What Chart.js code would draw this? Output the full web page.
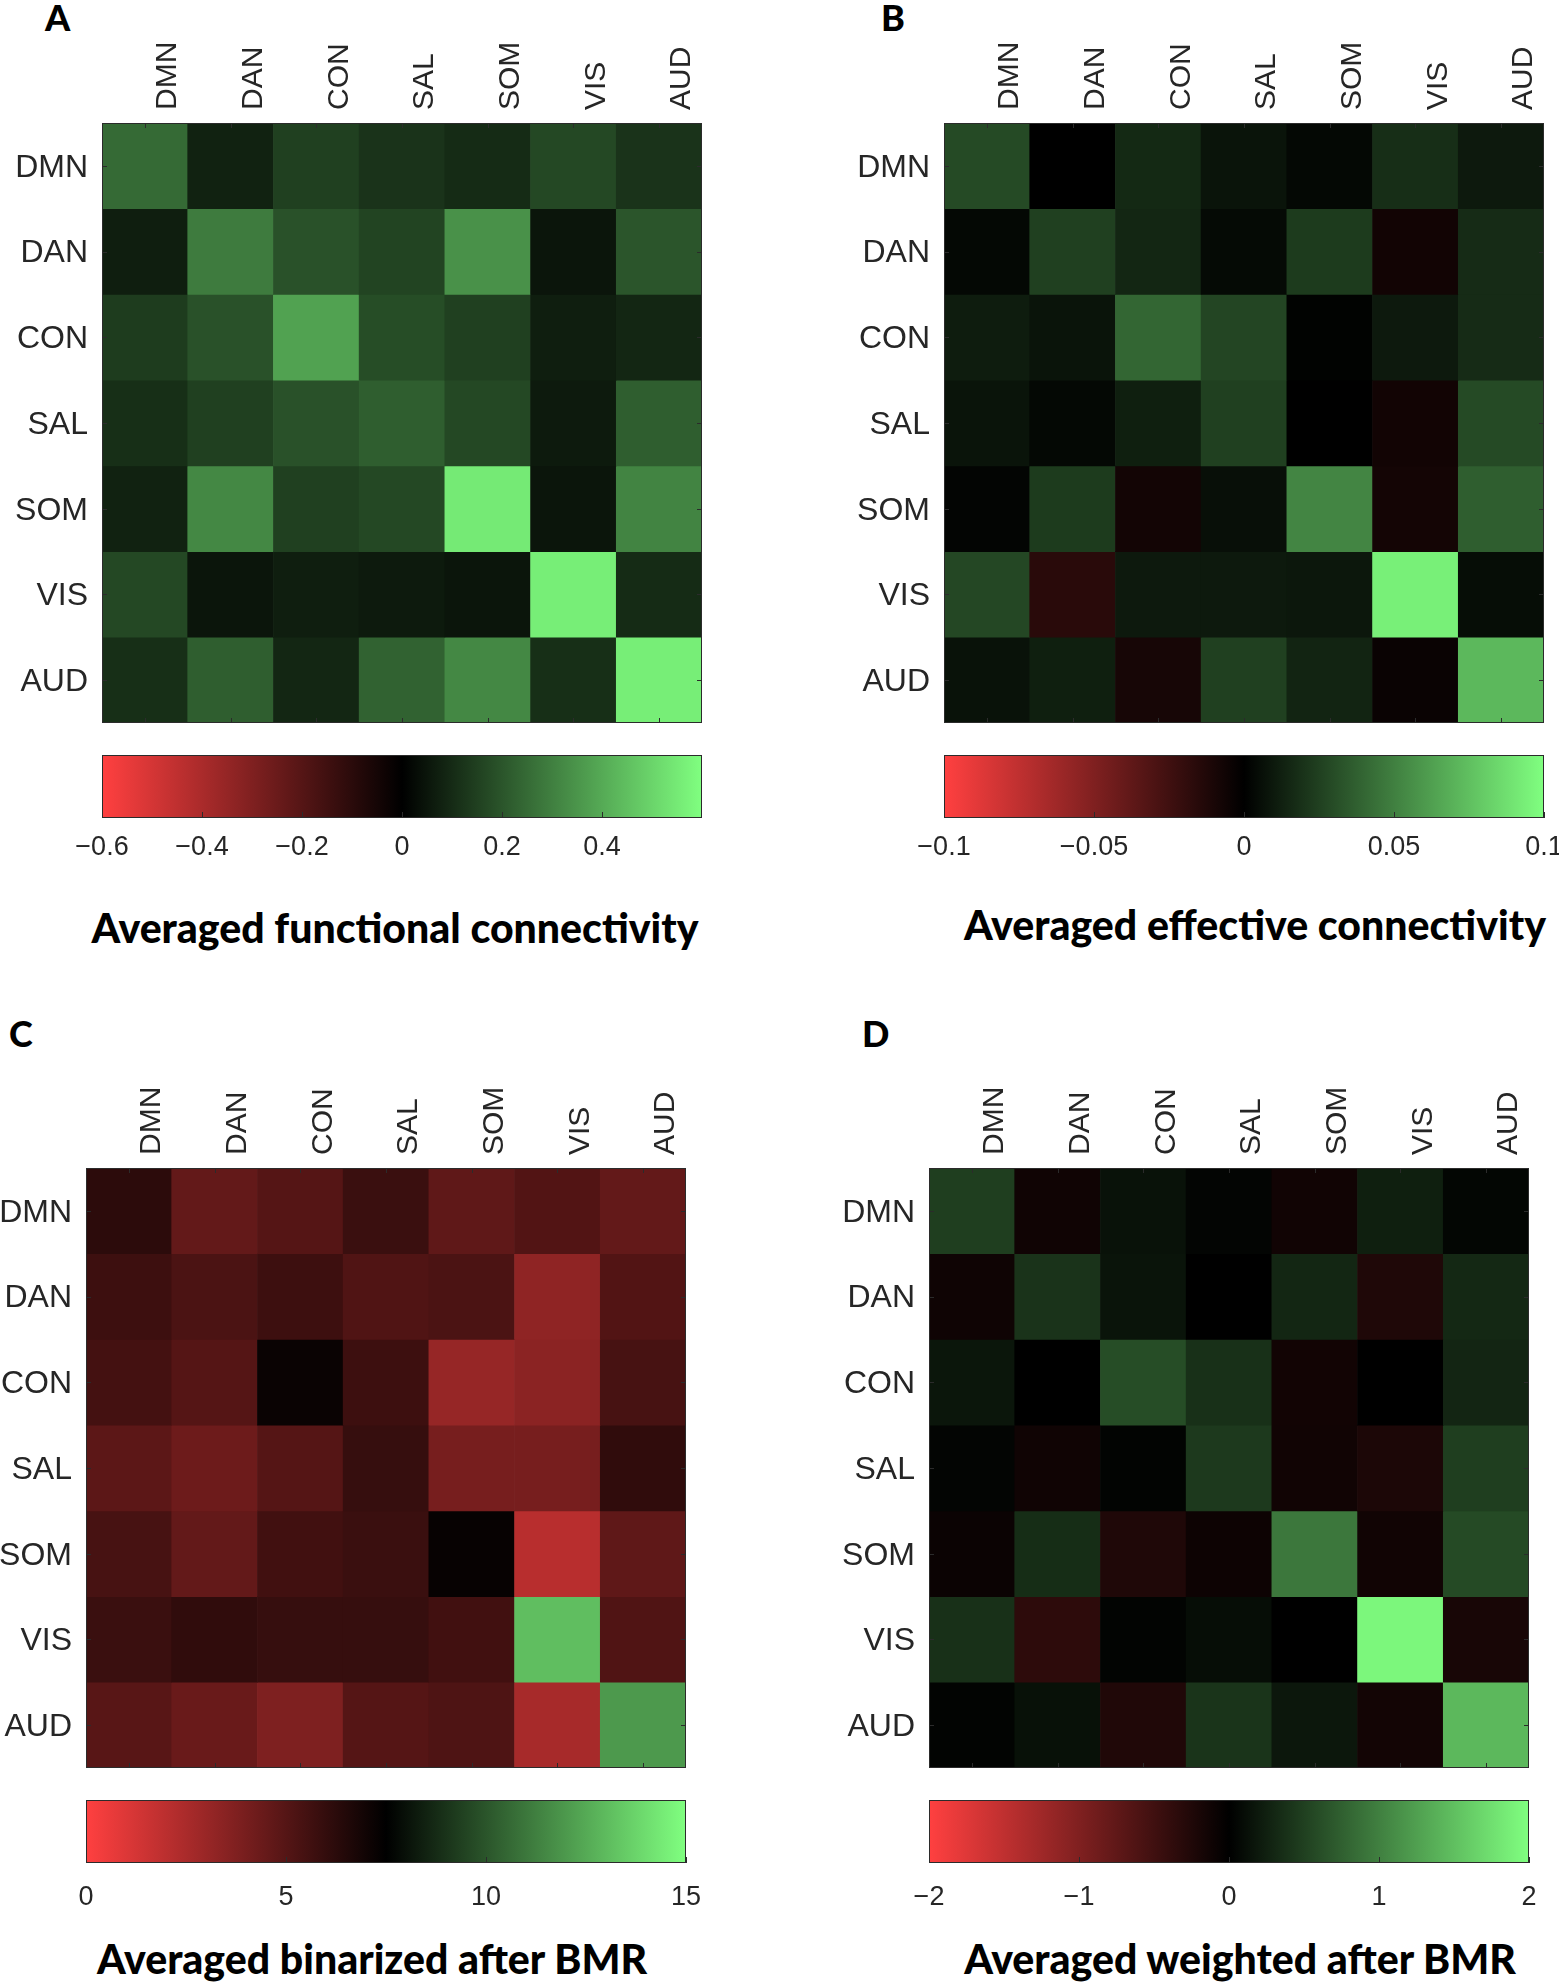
<!DOCTYPE html>
<html>
<head>
<meta charset="utf-8">
<script src="https://cdn.jsdelivr.net/npm/chart.js@4.4.1/dist/chart.umd.min.js"></script>
<style>
  html, body { margin: 0; padding: 0; background: #fff; }
  #page { position: relative; width: 1559px; height: 1988px; overflow: hidden; background: #fff; }
  canvas { position: absolute; }
  .letter { position: absolute; font-family: Lato, 'Liberation Sans', Arial, sans-serif; font-weight: 900; font-size: 36px; line-height: 1; color: #000; }
  .title { position: absolute; width: 800px; text-align: center; font-family: Lato, 'Liberation Sans', Arial, sans-serif; font-weight: 900; font-size: 41px; line-height: 1; color: #000; white-space: nowrap; }
</style>
</head>
<body>
<div id="page">
  <div class="letter" style="left:45px; top:-1px;">A</div>
  <div class="letter" style="left:881px; top:-1px;">B</div>
  <div class="letter" style="left:9px; top:1015px;">C</div>
  <div class="letter" style="left:862px; top:1015px;">D</div>
  <div class="title" style="left:-5px; top:907px;">Averaged functional connectivity</div>
  <div class="title" style="left:855px; top:904px;">Averaged effective connectivity</div>
  <div class="title" style="left:-28px; top:1938px;">Averaged binarized after BMR</div>
  <div class="title" style="left:840px; top:1938px;">Averaged weighted after BMR</div>
</div>
<script>
// ---------------- DATA ----------------
const networks = ['DMN', 'DAN', 'CON', 'SAL', 'SOM', 'VIS', 'AUD'];

// A: averaged functional connectivity (rows = networks, cols = networks)
const fcValues = [
  [0.25, 0.08, 0.15, 0.12, 0.10, 0.17, 0.12],
  [0.07, 0.29, 0.19, 0.16, 0.34, 0.05, 0.20],
  [0.14, 0.19, 0.38, 0.18, 0.15, 0.07, 0.09],
  [0.11, 0.15, 0.19, 0.22, 0.17, 0.06, 0.22],
  [0.08, 0.32, 0.15, 0.17, 0.55, 0.05, 0.31],
  [0.17, 0.05, 0.07, 0.06, 0.05, 0.56, 0.10],
  [0.11, 0.22, 0.09, 0.23, 0.32, 0.11, 0.56]
];
const fcRange = [-0.6, 0.6];
const fcTicks = [-0.6, -0.4, -0.2, 0, 0.2, 0.4];
const fcTickLabels = ['\u22120.6', '\u22120.4', '\u22120.2', '0', '0.2', '0.4'];

// B: averaged effective connectivity
const ecValues = [
  [0.029, 0.000, 0.016, 0.008, 0.003, 0.018, 0.010],
  [0.003, 0.025, 0.015, 0.004, 0.023, -0.007, 0.017],
  [0.011, 0.008, 0.040, 0.027, 0.001, 0.010, 0.017],
  [0.008, 0.003, 0.012, 0.025, 0.000, -0.007, 0.029],
  [0.002, 0.023, -0.0075, 0.006, 0.052, -0.008, 0.037],
  [0.028, -0.016, 0.010, 0.010, 0.009, 0.094, 0.005],
  [0.007, 0.012, -0.009, 0.025, 0.014, -0.004, 0.072]
];
const ecRange = [-0.1, 0.1];
const ecTicks = [-0.1, -0.05, 0, 0.05, 0.1];
const ecTickLabels = ['\u22120.1', '\u22120.05', '0', '0.05', '0.1'];

// C: averaged binarized after BMR
const binValues = [
  [6.2, 4.6, 5.0, 5.8, 4.7, 5.1, 4.6],
  [5.7, 5.3, 5.7, 5.15, 5.3, 3.3, 5.1],
  [5.5, 5.0, 7.2, 5.7, 3.1, 3.4, 5.4],
  [4.8, 4.3, 5.0, 5.9, 4.0, 4.0, 6.1],
  [5.4, 4.6, 5.6, 5.8, 7.3, 2.1, 4.7],
  [5.8, 6.1, 5.9, 5.9, 5.6, 13.1, 5.15],
  [4.9, 4.4, 3.8, 5.0, 5.2, 2.6, 12.0]
];
const binRange = [0, 15];
const binTicks = [0, 5, 10, 15];
const binTickLabels = ['0', '5', '10', '15'];

// D: averaged weighted after BMR
const wValues = [
  [0.49, -0.125, 0.14, 0.04, -0.13, 0.24, 0.05],
  [-0.12, 0.40, 0.16, 0.00, 0.30, -0.24, 0.31],
  [0.17, 0.00, 0.60, 0.38, -0.14, 0.00, 0.29],
  [0.04, -0.125, 0.03, 0.45, -0.13, -0.22, 0.49],
  [-0.09, 0.35, -0.24, -0.10, 0.93, -0.13, 0.58],
  [0.38, -0.35, 0.03, 0.10, 0.00, 1.94, -0.19],
  [0.03, 0.13, -0.25, 0.41, 0.18, -0.15, 1.44]
];
const wRange = [-2, 2];
const wTicks = [-2, -1, 0, 1, 2];
const wTickLabels = ['\u22122', '\u22121', '0', '1', '2'];

// ---------------- STYLE / LAYOUT ----------------
const LOW_COLOR = [255, 64, 64];
const HIGH_COLOR = [128, 255, 128];
const FONT_FAMILY = "'Liberation Sans', Arial, Helvetica, sans-serif";
const TEXT_COLOR = '#262626';
const FRAME_COLOR = '#2b2b2b';
const MAP_SIZE = 600;
const AXIS_TOP = 123;
const CB_HEIGHT = 63;
const CB_PAD = 60;

const panels = [
  { values: fcValues, range: fcRange, ticks: fcTicks, tickLabels: fcTickLabels, left: 102, top: 123, cbTop: 755, cbLabelPad: 13 },
  { values: ecValues, range: ecRange, ticks: ecTicks, tickLabels: ecTickLabels, left: 944, top: 123, cbTop: 755, cbLabelPad: 13 },
  { values: binValues, range: binRange, ticks: binTicks, tickLabels: binTickLabels, left: 86, top: 1168, cbTop: 1800, cbLabelPad: 18 },
  { values: wValues, range: wRange, ticks: wTicks, tickLabels: wTickLabels, left: 929, top: 1168, cbTop: 1800, cbLabelPad: 18 }
];

Chart.defaults.font.family = FONT_FAMILY;
Chart.defaults.color = TEXT_COLOR;
Chart.defaults.animation = false;

function colorFor(v, range) {
  const mid = (range[0] + range[1]) / 2;
  let t, c;
  if (v >= mid) { t = Math.min(1, (v - mid) / (range[1] - mid)); c = HIGH_COLOR; }
  else { t = Math.min(1, (mid - v) / (mid - range[0])); c = LOW_COLOR; }
  return 'rgb(' + Math.round(c[0] * t) + ',' + Math.round(c[1] * t) + ',' + Math.round(c[2] * t) + ')';
}

function rgbStr(c) { return 'rgb(' + c[0] + ',' + c[1] + ',' + c[2] + ')'; }

const heatFrame = {
  id: 'heatFrame',
  afterDatasetsDraw(chart) {
    const { ctx, chartArea: a, scales: { x, y } } = chart;
    ctx.save();
    ctx.strokeStyle = FRAME_COLOR;
    ctx.lineWidth = 1;
    ctx.beginPath();
    for (let i = 0; i < networks.length; i++) {
      const px = Math.round(x.getPixelForTick(i)) + 0.5;
      ctx.moveTo(px, a.top); ctx.lineTo(px, a.top + 5);
      ctx.moveTo(px, a.bottom); ctx.lineTo(px, a.bottom - 5);
      const py = Math.round(y.getPixelForValue(i + 0.5)) + 0.5;
      ctx.moveTo(a.left, py); ctx.lineTo(a.left + 5, py);
      ctx.moveTo(a.right, py); ctx.lineTo(a.right - 5, py);
    }
    ctx.stroke();
    ctx.strokeRect(Math.round(a.left) + 0.5, Math.round(a.top) + 0.5, Math.round(a.right - a.left) - 1, Math.round(a.bottom - a.top) - 1);
    ctx.restore();
  }
};

const cbFrame = {
  id: 'cbFrame',
  afterDatasetsDraw(chart) {
    const { ctx, chartArea: a, scales: { x } } = chart;
    ctx.save();
    ctx.strokeStyle = FRAME_COLOR;
    ctx.lineWidth = 1;
    ctx.beginPath();
    x.ticks.forEach(t => {
      const px = Math.round(x.getPixelForValue(t.value)) + 0.5;
      ctx.moveTo(px, a.bottom); ctx.lineTo(px, a.bottom - 6);
    });
    ctx.stroke();
    ctx.strokeRect(Math.round(a.left) + 0.5, Math.round(a.top) + 0.5, Math.round(a.right - a.left) - 1, Math.round(a.bottom - a.top) - 1);
    ctx.restore();
  }
};

function makeCanvas(left, top, w, h) {
  const c = document.createElement('canvas');
  c.width = w; c.height = h;
  c.style.left = left + 'px'; c.style.top = top + 'px';
  c.style.width = w + 'px'; c.style.height = h + 'px';
  document.getElementById('page').appendChild(c);
  return c;
}

panels.forEach(p => {
  // ---- heatmap ----
  const axisLeft = Math.min(110, p.left);
  const hc = makeCanvas(p.left - axisLeft, p.top - AXIS_TOP, axisLeft + MAP_SIZE + 6, AXIS_TOP + MAP_SIZE + 6);
  new Chart(hc, {
    type: 'bar',
    data: {
      labels: networks,
      datasets: p.values.map((row, i) => ({
        label: networks[i],
        data: row.map(() => [i, i + 1]),
        backgroundColor: row.map(v => colorFor(v, p.range)),
        borderWidth: 0,
        grouped: false,
        barPercentage: 1,
        categoryPercentage: 1
      }))
    },
    options: {
      responsive: false,
      devicePixelRatio: 1,
      layout: { padding: { left: 0, top: 0, right: 6, bottom: 6 } },
      plugins: { legend: { display: false }, tooltip: { enabled: false } },
      scales: {
        x: {
          type: 'category',
          position: 'top',
          offset: true,
          grid: { display: false, drawTicks: false },
          border: { display: false },
          ticks: { minRotation: 90, maxRotation: 90, autoSkip: false, padding: 13, labelOffset: 59, font: { size: 30 }, color: TEXT_COLOR },
          afterFit: s => { s.height = AXIS_TOP; s.paddingLeft = 0; s.paddingRight = 0; }
        },
        y: {
          type: 'linear',
          min: 0, max: networks.length,
          reverse: true,
          grid: { display: false, drawTicks: false },
          border: { display: false },
          afterBuildTicks: s => { s.ticks = networks.map((n, i) => ({ value: i + 0.5 })); },
          ticks: { autoSkip: false, padding: 14, labelOffset: 2, font: { size: 32 }, color: TEXT_COLOR, callback: v => networks[Math.floor(v)] },
          afterFit: s => { s.width = axisLeft; s.paddingTop = 0; s.paddingBottom = 0; }
        }
      }
    },
    plugins: [heatFrame]
  });

  // ---- colorbar ----
  const cc = makeCanvas(p.left - CB_PAD, p.cbTop, MAP_SIZE + 2 * CB_PAD, CB_HEIGHT + 56);
  new Chart(cc, {
    type: 'bar',
    data: {
      labels: [''],
      datasets: [{
        data: [p.range],
        backgroundColor: ctx => {
          const chart = ctx.chart;
          if (!chart.chartArea) return null;
          const xs = chart.scales.x;
          const g = chart.ctx.createLinearGradient(xs.getPixelForValue(p.range[0]), 0, xs.getPixelForValue(p.range[1]), 0);
          g.addColorStop(0, rgbStr(LOW_COLOR));
          g.addColorStop(0.5, 'rgb(0,0,0)');
          g.addColorStop(1, rgbStr(HIGH_COLOR));
          return g;
        },
        borderWidth: 0,
        barPercentage: 1,
        categoryPercentage: 1
      }]
    },
    options: {
      indexAxis: 'y',
      responsive: false,
      devicePixelRatio: 1,
      layout: { padding: { left: CB_PAD, right: CB_PAD, top: 0, bottom: 0 } },
      plugins: { legend: { display: false }, tooltip: { enabled: false } },
      scales: {
        x: {
          type: 'linear',
          position: 'bottom',
          min: p.range[0], max: p.range[1],
          grid: { display: false, drawTicks: false },
          border: { display: false },
          afterBuildTicks: s => { s.ticks = p.ticks.map(v => ({ value: v })); },
          ticks: { autoSkip: false, maxRotation: 0, padding: p.cbLabelPad, font: { size: 27 }, color: TEXT_COLOR,
                   callback: (v, i) => p.tickLabels[i] },
          afterFit: s => { s.height = 56; }
        },
        y: { display: false }
      }
    },
    plugins: [cbFrame]
  });
});
</script>
</body>
</html>
